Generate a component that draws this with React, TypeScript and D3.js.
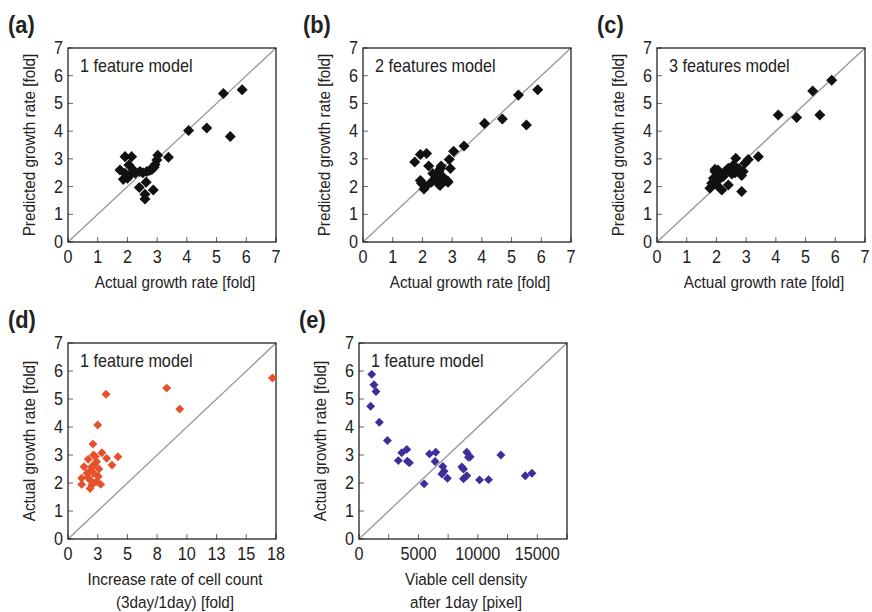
import React from 'react'
import * as d3 from 'd3'

// growth-rate axis ticks shared by every panel
const growthTicks = [0, 1, 2, 3, 4, 5, 6, 7]

// (a) 1 feature model: actual vs predicted
const aActual = [5.86, 5.23, 5.46, 4.67, 4.06, 3.38, 3.02, 2.99, 2.93, 2.82, 2.65, 2.42, 2.26, 2.09, 1.92, 2.14, 2.05, 1.75, 1.92, 1.86, 2.4, 2.63, 2.87, 2.59, 2.59, 2.52, 2.74, 2.0, 2.2, 2.9]
const aPred = [5.49, 5.36, 3.81, 4.11, 4.02, 3.06, 3.13, 2.96, 2.8, 2.62, 2.54, 2.54, 2.48, 2.42, 3.08, 3.08, 2.78, 2.6, 2.48, 2.26, 1.97, 2.16, 1.88, 1.72, 1.55, 2.5, 2.58, 2.3, 2.6, 2.7]

// (b) 2 features model
const bActual = [5.88, 5.23, 5.5, 4.69, 4.09, 3.4, 3.05, 2.9, 2.94, 2.86, 2.77, 2.7, 2.57, 2.61, 2.63, 2.3, 2.21, 2.35, 2.44, 2.11, 2.05, 1.97, 1.93, 2.14, 1.93, 1.74, 2.5, 2.6, 2.85, 2.55]
const bPred = [5.49, 5.3, 4.22, 4.44, 4.28, 3.46, 3.27, 2.98, 2.65, 2.16, 2.22, 2.34, 2.06, 2.65, 2.74, 2.16, 2.74, 2.47, 2.28, 2.0, 1.91, 2.12, 2.22, 3.19, 3.16, 2.89, 2.36, 2.05, 2.2, 2.55]

// (c) 3 features model
const cActual = [5.88, 5.24, 5.48, 4.7, 4.08, 3.41, 3.07, 2.96, 2.65, 2.57, 2.4, 2.63, 2.9, 2.85, 2.4, 2.18, 1.78, 1.95, 1.9, 2.06, 2.23, 2.01, 1.84, 2.29, 1.95, 2.1, 2.75, 2.52, 2.85, 2.05]
const cPred = [5.84, 5.45, 4.58, 4.49, 4.58, 3.08, 2.98, 2.84, 3.02, 2.78, 2.66, 2.5, 2.54, 1.82, 2.06, 1.88, 1.94, 2.54, 2.3, 2.24, 2.36, 2.06, 2.12, 2.54, 2.62, 2.45, 2.65, 2.45, 2.4, 2.6]

// (d) increase rate of cell count vs actual growth
const dIncrease = [17.2, 8.3, 9.4, 3.2, 2.5, 2.1, 2.15, 2.85, 3.25, 4.2, 3.7, 1.7, 1.35, 2.0, 2.4, 1.6, 2.15, 2.55, 1.15, 1.85, 1.15, 2.0, 2.75, 1.85, 2.3, 2.6, 1.9, 2.4, 2.2, 1.7]
const dActual = [5.75, 5.39, 4.64, 5.17, 4.07, 3.39, 3.0, 3.08, 2.88, 2.94, 2.64, 2.85, 2.58, 2.58, 2.76, 2.35, 2.35, 2.23, 2.17, 2.11, 1.95, 1.93, 1.95, 1.8, 2.95, 2.5, 2.45, 2.05, 2.65, 2.2]
const dTickVals = [0, 2.5, 5, 7.5, 10, 12.5, 15, 17.5]
const dTickLabels = ['0', '3', '5', '8', '10', '13', '15', '18']

// (e) viable cell density vs actual growth
const eDensity = [1070, 1260, 1430, 980, 1710, 2390, 3310, 3600, 4020, 4070, 4240, 5480, 5930, 6460, 6400, 7050, 7160, 6970, 7440, 8650, 8790, 9070, 9210, 9350, 8790, 9070, 10140, 10900, 11940, 13990, 14550]
const eActual = [5.88, 5.51, 5.27, 4.74, 4.17, 3.52, 2.8, 3.08, 3.2, 2.78, 2.72, 1.97, 3.04, 3.1, 2.77, 2.59, 2.42, 2.32, 2.17, 2.57, 2.5, 3.1, 2.92, 2.94, 2.15, 2.26, 2.11, 2.12, 3.0, 2.26, 2.35]
const eTickVals = [0, 2500, 5000, 7500, 10000, 12500, 15000, 17500]
const eTickLabels = ['0', '', '5000', '', '10000', '', '15000', '']

const FONT = '"Liberation Sans", Arial, Helvetica, sans-serif'

function Txt({ x, y, size = 17, anchor = 'start', bold = false, rotate = 0, sx = 0.9, children }) {
  return (
    <text
      transform={`translate(${x},${y}) rotate(${rotate}) scale(${sx},1)`}
      fontSize={size}
      fontFamily={FONT}
      fontWeight={bold ? 'bold' : 'normal'}
      textAnchor={anchor}
      fill="#222"
    >
      {children}
    </text>
  )
}

function Panel({ left, top, w, h, xMax, xTickVals, xTickLabels, xs, ys, color, side, label, note, yTitle, xTitle }) {
  const x = d3.scaleLinear().domain([0, xMax]).range([left, left + w])
  const y = d3.scaleLinear().domain([0, 7]).range([top + h, top])
  const sym = d3.symbol(d3.symbolSquare, side * side)()
  const pts = xs.map((v, i) => [v, ys[i]])

  return (
    <g>
      <Txt x={left - 60} y={top - 15} size={23} bold sx={0.95}>{label}</Txt>
      <line x1={x(0)} y1={y(0)} x2={x(xMax)} y2={y(7)} stroke="#9a9a9a" strokeWidth={1.4} />
      {xTickVals.map((v, i) => (
        <g key={'xt' + i}>
          <line x1={x(v)} x2={x(v)} y1={y(0)} y2={y(0) - 5} stroke="#666" />
          <Txt x={x(v)} y={y(0) + 21} size={18} anchor="middle">{xTickLabels[i]}</Txt>
        </g>
      ))}
      {growthTicks.map(v => (
        <g key={'yt' + v}>
          <line x1={x(0)} x2={x(0) + 5} y1={y(v)} y2={y(v)} stroke="#666" />
          <Txt x={x(0) - 5} y={y(v) + 6} size={18} anchor="end">{v}</Txt>
        </g>
      ))}
      <rect x={left} y={top} width={w} height={h} fill="none" stroke="#111" strokeWidth={1.2} />
      {pts.map((p, i) => (
        <path key={i} d={sym} transform={`translate(${x(p[0])},${y(p[1])}) rotate(45)`} fill={color} />
      ))}
      <Txt x={left + 12} y={top + 24} size={18}>{note}</Txt>
      <Txt x={left - 33} y={top + h / 2} anchor="middle" rotate={-90}>{yTitle}</Txt>
      {xTitle.map((t, i) => (
        <Txt key={t} x={left + w / 2 + 3} y={top + h + 46 + i * 23} anchor="middle">{t}</Txt>
      ))}
    </g>
  )
}

export default function App() {
  const W = 208
  const black = '#111'
  return (
    <div style={{ position: 'absolute', left: 0, top: 0 }}>
      <svg width={872} height={612} style={{ display: 'block', background: '#fff' }}>
        <Panel left={68} top={48} w={W} h={194} xMax={7} xTickVals={growthTicks} xTickLabels={growthTicks.map(String)}
          xs={aActual} ys={aPred} color={black} side={7.8} label="(a)" note="1 feature model"
          yTitle="Predicted growth rate [fold]" xTitle={['Actual growth rate [fold]']} />
        <Panel left={363} top={48} w={W} h={194} xMax={7} xTickVals={growthTicks} xTickLabels={growthTicks.map(String)}
          xs={bActual} ys={bPred} color={black} side={7.8} label="(b)" note="2 features model"
          yTitle="Predicted growth rate [fold]" xTitle={['Actual growth rate [fold]']} />
        <Panel left={657} top={48} w={W} h={194} xMax={7} xTickVals={growthTicks} xTickLabels={growthTicks.map(String)}
          xs={cActual} ys={cPred} color={black} side={7.8} label="(c)" note="3 features model"
          yTitle="Predicted growth rate [fold]" xTitle={['Actual growth rate [fold]']} />
        <Panel left={68} top={343} w={W} h={196} xMax={17.5} xTickVals={dTickVals} xTickLabels={dTickLabels}
          xs={dIncrease} ys={dActual} color="#e8502a" side={6.3} label="(d)" note="1 feature model"
          yTitle="Actual growth rate [fold]" xTitle={['Increase rate of cell count', '(3day/1day) [fold]']} />
        <Panel left={359} top={343} w={W} h={196} xMax={17500} xTickVals={eTickVals} xTickLabels={eTickLabels}
          xs={eDensity} ys={eActual} color="#3b2f9c" side={6.3} label="(e)" note="1 feature model"
          yTitle="Actual growth rate [fold]" xTitle={['Viable cell density', 'after 1day [pixel]']} />
      </svg>
    </div>
  )
}
